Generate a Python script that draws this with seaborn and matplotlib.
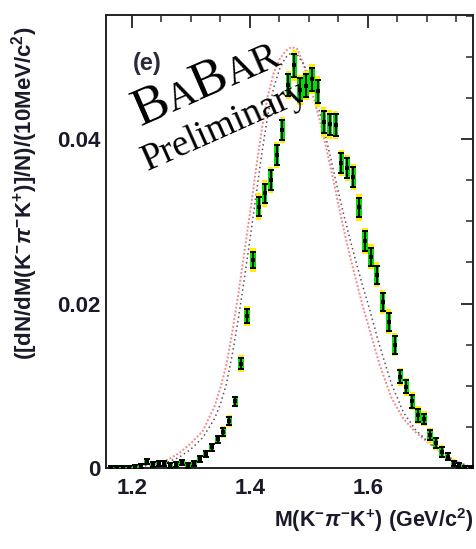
import numpy as np
import pandas as pd
import matplotlib
matplotlib.use("Agg")
import matplotlib.pyplot as plt
import seaborn as sns
from matplotlib.ticker import MultipleLocator
from matplotlib.font_manager import FontProperties

# measured spectrum, 10 MeV bins
mass_bins = np.round(np.arange(1.165, 1.78, 0.01), 3)
dn_dm = [0.0, 0.0, 0.0, 0.0, 0.0001, 0.0002, 0.0008, 0.0004, 0.0006, 0.0005,
         0.0003, 0.0004, 0.0007, 0.0003, 0.0006, 0.0011, 0.0017, 0.0025, 0.0035, 0.0044,
         0.0057, 0.0081, 0.0127, 0.0185, 0.0253, 0.0318, 0.0334, 0.0350, 0.0381, 0.0411,
         0.0466, 0.0490, 0.0460, 0.0465, 0.0473, 0.0458, 0.0421, 0.0418, 0.0417, 0.0371,
         0.0365, 0.0354, 0.0317, 0.0276, 0.0257, 0.0235, 0.0202, 0.0178, 0.0150, 0.0111,
         0.0099, 0.0081, 0.0064, 0.0060, 0.0040, 0.0030, 0.0020, 0.0014, 0.0006, 0.0003,
         0.0001, 0.0000]
stat_err = [0.0002, 0.0002, 0.0002, 0.0002, 0.0003, 0.0003, 0.0003, 0.0003, 0.0003, 0.0003,
            0.0003, 0.0003, 0.0003, 0.0003, 0.0003, 0.0004, 0.0004, 0.0004, 0.0004, 0.0005,
            0.0005, 0.0005, 0.0007, 0.0009, 0.0010, 0.0012, 0.0012, 0.0012, 0.0012, 0.0012,
            0.0013, 0.0014, 0.0014, 0.0014, 0.0014, 0.0014, 0.0013, 0.0013, 0.0013, 0.0012,
            0.0012, 0.0012, 0.0012, 0.0012, 0.0011, 0.0011, 0.0011, 0.0011, 0.0011, 0.0008,
            0.0008, 0.0008, 0.0008, 0.0006, 0.0006, 0.0006, 0.0006, 0.0004, 0.0003, 0.0003,
            0.0002, 0.0002]
total_err = [0.0003, 0.0003, 0.0003, 0.0003, 0.0004, 0.0004, 0.0004, 0.0004, 0.0004, 0.0004,
             0.0004, 0.0004, 0.0004, 0.0004, 0.0004, 0.0005, 0.0005, 0.0005, 0.0005, 0.0007,
             0.0007, 0.0007, 0.0010, 0.0012, 0.0014, 0.0016, 0.0016, 0.0016, 0.0016, 0.0016,
             0.0017, 0.0019, 0.0018, 0.0018, 0.0018, 0.0019, 0.0018, 0.0018, 0.0017, 0.0016,
             0.0016, 0.0016, 0.0016, 0.0016, 0.0015, 0.0015, 0.0015, 0.0015, 0.0014, 0.0011,
             0.0011, 0.0011, 0.0011, 0.0009, 0.0009, 0.0008, 0.0008, 0.0006, 0.0005, 0.0004,
             0.0003, 0.0003]

# model curves
curve_mass = [1.16, 1.20, 1.24, 1.26, 1.28, 1.30, 1.32, 1.34, 1.35, 1.36, 1.37, 1.38, 1.39,
              1.40, 1.41, 1.42, 1.43, 1.44, 1.45, 1.46, 1.47, 1.48, 1.49, 1.50, 1.51, 1.52,
              1.53, 1.54, 1.55, 1.56, 1.57, 1.58, 1.59, 1.60, 1.62, 1.64, 1.66, 1.68, 1.70,
              1.72, 1.74, 1.76, 1.775]
model_red = [0.0, 0.0002, 0.0006, 0.0010, 0.0018, 0.0030, 0.0045, 0.0075, 0.0098, 0.0125,
             0.0165, 0.0210, 0.0260, 0.0310, 0.0362, 0.0412, 0.0452, 0.0480, 0.0497, 0.0507,
             0.0512, 0.0510, 0.0493, 0.0470, 0.0445, 0.0418, 0.0387, 0.0355, 0.0320, 0.0287,
             0.0256, 0.0228, 0.0200, 0.0175, 0.0125, 0.0085, 0.0060, 0.0044, 0.0032, 0.0021,
             0.0012, 0.0005, 0.0001]
model_black = [0.0, 0.0001, 0.0004, 0.0007, 0.0013, 0.0023, 0.0037, 0.0060, 0.0078, 0.0102,
               0.0138, 0.0180, 0.0228, 0.0278, 0.0330, 0.0382, 0.0428, 0.0462, 0.0485, 0.0499,
               0.0505, 0.0503, 0.0492, 0.0478, 0.0455, 0.0428, 0.0398, 0.0367, 0.0335, 0.0305,
               0.0277, 0.0250, 0.0224, 0.0200, 0.0148, 0.0102, 0.0068, 0.0047, 0.0033, 0.0021,
               0.0012, 0.0005, 0.0001]

y_ticks = [0, 0.02, 0.04]
y_ticklabels = ["0", "0.02", "0.04"]
x_ticks = [1.2, 1.4, 1.6]
x_ticklabels = ["1.2", "1.4", "1.6"]

sns.set_theme(style="white")
plt.rcParams["font.family"] = ["Liberation Sans", "DejaVu Sans"]
plt.rcParams["mathtext.fontset"] = "custom"
plt.rcParams["mathtext.rm"] = "Liberation Sans:bold"
plt.rcParams["mathtext.it"] = "Liberation Sans:bold:italic"
plt.rcParams["mathtext.bf"] = "Liberation Sans:bold"

data = pd.DataFrame({"mass": mass_bins, "value": dn_dm,
                     "stat": stat_err, "total": total_err})
curves = pd.DataFrame({"mass": curve_mass, "red": model_red, "black": model_black})

fig = plt.figure(figsize=(4.77, 5.49), dpi=100)
ax = fig.add_axes([0.2222, 0.1475, 0.7694, 0.8252])

# model curves
sns.lineplot(data=curves, x="mass", y="red", ax=ax, color="#f28a8a", lw=1.4,
             linestyle=(0, (1, 1)), zorder=2)
sns.lineplot(data=curves, x="mass", y="black", ax=ax, color="#555555", lw=1.1,
             linestyle=(0, (1, 2)), zorder=2)

# error boxes
bw = 0.009
ax.bar(data["mass"], 2 * data["total"], bottom=data["value"] - data["total"],
       width=bw, color="#ffee00", linewidth=0, zorder=3)
ax.bar(data["mass"], 2 * data["stat"], bottom=data["value"] - data["stat"],
       width=bw, color="#00e000", linewidth=0, zorder=4)
ax.errorbar(data["mass"], data["value"], yerr=data["stat"], fmt="none",
            ecolor="black", elinewidth=1.3, capsize=2.4, capthick=1.4, zorder=5)
sns.scatterplot(data=data, x="mass", y="value", ax=ax, color="black", marker="s",
                s=8, linewidth=0, zorder=6)

ax.set_xlim(1.156, 1.778)
ax.set_ylim(0, 0.0551)
ax.set_xticks(x_ticks)
ax.set_xticklabels(x_ticklabels)
ax.set_yticks(y_ticks)
ax.set_yticklabels(y_ticklabels)
ax.xaxis.set_minor_locator(MultipleLocator(0.05))
ax.yaxis.set_minor_locator(MultipleLocator(0.005))
ax.tick_params(which="major", direction="in", length=9, width=1.3, top=True, right=True,
               labelsize=16, colors="#222222")
ax.tick_params(which="minor", direction="in", length=5, width=1.1, top=True, right=True)
ax.tick_params(axis="y", pad=4)
ax.tick_params(axis="x", pad=7)
for lab in ax.get_xticklabels() + ax.get_yticklabels():
    lab.set_fontweight("bold")
    lab.set_color("#1a1a2a")
for sp in ax.spines.values():
    sp.set_color("#222222")
    sp.set_linewidth(1.4)
ax.set_xlabel("")
ax.set_ylabel("")

fig.text(0.052, 0.648, r"([dN/dM(K$^{-}\pi^{-}$K$^{+}$)]/N)/(10MeV/c$^{2}$)",
         rotation=90, ha="center", va="center", fontsize=16, fontweight="bold",
         color="#1a1a2a")
fig.text(0.992, 0.052, r"M(K$^{-}\pi^{-}$K$^{+}$) (GeV/c$^{2}$)",
         ha="right", va="center", fontsize=15.5, fontweight="bold", color="#1a1a2a")

ax.text(0.112, 0.893, "(e)", transform=ax.transAxes, fontsize=17, fontweight="bold",
        color="#2b2b3a", ha="center", va="center")

# BaBar logo in small caps, rotated
ang = 23.5
renderer = fig.canvas.get_renderer()
cx, cy = 140, 549 - 126
pieces = [("B", 38), ("A", 29), ("B", 38), ("AR", 29)]
for s, fs in pieces:
    fig.text(cx / 477, cy / 549, s, fontsize=fs, family="Liberation Serif",
             rotation=ang, rotation_mode="anchor", ha="left", va="baseline", color="black")
    prop = FontProperties(family="Liberation Serif", size=fs)
    w, h, d = renderer.get_text_width_height_descent(s, prop, ismath=False)
    cx += w * np.cos(np.radians(ang))
    cy += w * np.sin(np.radians(ang))

fig.text(148 / 477, 1 - 171 / 549, "Preliminary", fontsize=27, family="Liberation Serif",
         rotation=24, rotation_mode="anchor", ha="left", va="baseline", color="black")

fig.savefig("out.png", dpi=100)
